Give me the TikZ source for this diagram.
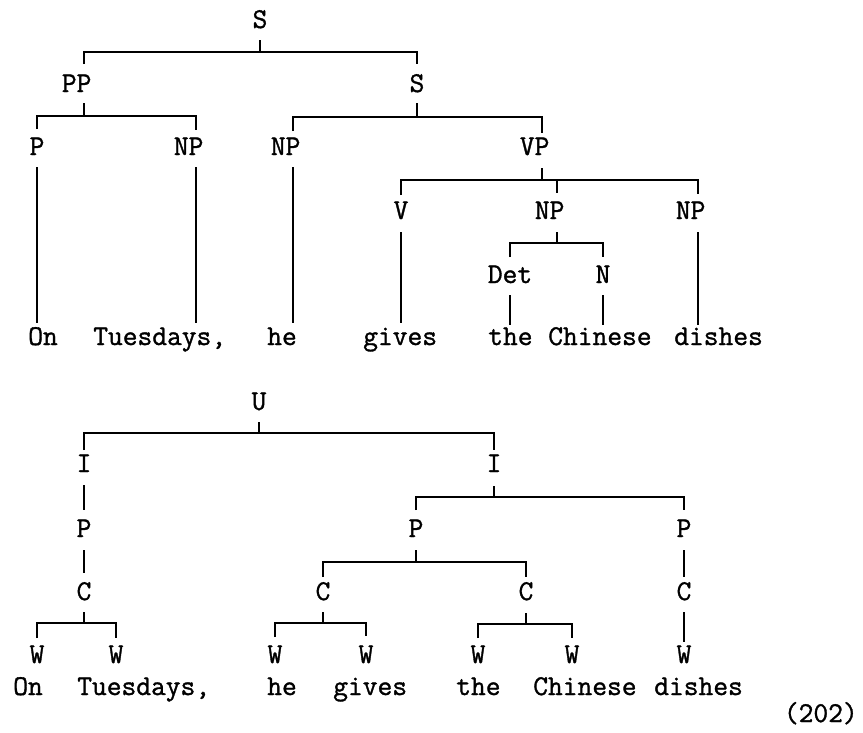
\documentclass[tikz,border=0pt]{standalone}
\usepackage{fontspec}
\newfontfamily\treemono[FakeBold=1.2]{Latin Modern Mono}
\newcommand\treefont{\fontsize{21.5}{24}\selectfont\treemono}
\tikzset{
  lab/.style={inner sep=0pt, anchor=base, font=\treefont},
  word/.style={inner sep=0pt, anchor=base west, font=\treefont},
  link/.style={line width=1.3pt},
}
\begin{document}
\begin{tikzpicture}[x=0.75pt, y=-0.75pt]
\useasboundingbox (0,0) rectangle (863,732);

% ---------- constituent tree ----------
% two-letter labels carry a phantom column so that the node centre sits on the last letter
\node[lab] (s0)  at (260,28)  {S};
\node[lab] (pp)  at (84,92)   {PP\phantom{P}};
\node[lab] (s1)  at (417,92)  {S};
\node[lab] (p)   at (37,155)  {P};
\node[lab] (np1) at (196,155) {NP\phantom{P}};
\node[lab] (np2) at (293,155) {NP\phantom{P}};
\node[lab] (vp)  at (542,155) {VP\phantom{P}};
\node[lab] (v)   at (401,219) {V};
\node[lab] (np3) at (557,219) {NP\phantom{P}};
\node[lab] (np4) at (698,219) {NP\phantom{P}};
\node[lab] (det) at (510,283) {Det};
\node[lab] (n)   at (603,283) {N};

\node[word] (on1)  at (28,345)  {On};
\node[word] (tu1)  at (93,345)  {Tuesdays,};
\node[word] (he1)  at (267,345) {he};
\node[word] (gi1)  at (363,345) {gives};
\node[word] (th1)  at (488,345) {the};
\node[word] (ch1)  at (548,345) {Chinese};
\node[word] (di1)  at (674,345) {dishes};

\draw[link] (s0 |- 0,40) -- (s0 |- 0,52);
\draw[link] (pp |- 0,64) -- (pp |- 0,52) -- (s1 |- 0,52) -- (s1 |- 0,64);
\draw[link] (pp |- 0,103) -- (pp |- 0,116);
\draw[link] (p |- 0,129) -- (p |- 0,116) -- (np1 |- 0,116) -- (np1 |- 0,130);
\draw[link] (s1 |- 0,103) -- (s1 |- 0,117);
\draw[link] (np2 |- 0,131) -- (np2 |- 0,117) -- (vp |- 0,117) -- (vp |- 0,133);
\draw[link] (p |- 0,167) -- (p |- 0,323);
\draw[link] (np1 |- 0,167) -- (np1 |- 0,323);
\draw[link] (np2 |- 0,167) -- (np2 |- 0,323);
\draw[link] (vp |- 0,168) -- (vp |- 0,180);
\draw[link] (v |- 0,195) -- (v |- 0,180) -- (np4 |- 0,180) -- (np4 |- 0,194);
\draw[link] (np3 |- 0,180) -- (np3 |- 0,193);
\draw[link] (v |- 0,232) -- (v |- 0,323);
\draw[link] (np3 |- 0,232) -- (np3 |- 0,243);
\draw[link] (det |- 0,257) -- (det |- 0,243) -- (n |- 0,243) -- (n |- 0,257);
\draw[link] (det |- 0,295) -- (det |- 0,325);
\draw[link] (n |- 0,295) -- (n |- 0,325);
\draw[link] (np4 |- 0,232) -- (np4 |- 0,325);

% ---------- prosodic tree ----------
\node[lab] (u)   at (259,410) {U};
\node[lab] (i1)  at (84,472)  {I};
\node[lab] (i2)  at (494,472) {I};
\node[lab] (pa)  at (84,537)  {P};
\node[lab] (pb)  at (416,537) {P};
\node[lab] (pc)  at (684,537) {P};
\node[lab] (ca)  at (84,600)  {C};
\node[lab] (cb)  at (323,600) {C};
\node[lab] (cc)  at (526,600) {C};
\node[lab] (cd)  at (684,600) {C};
\node[lab] (w1)  at (37,663)  {W};
\node[lab] (w2)  at (116,663) {W};
\node[lab] (w3)  at (275,663) {W};
\node[lab] (w4)  at (366,663) {W};
\node[lab] (w5)  at (478,663) {W};
\node[lab] (w6)  at (572,663) {W};
\node[lab] (w7)  at (684,663) {W};

\node[word] (on2)  at (13,695)  {On};
\node[word] (tu2)  at (77,695)  {Tuesdays,};
\node[word] (he2)  at (267,695) {he};
\node[word] (gi2)  at (333,695) {gives};
\node[word] (th2)  at (456,695) {the};
\node[word] (ch2)  at (533,695) {Chinese};
\node[word] (di2)  at (654,695) {dishes};
\node[lab, anchor=base east] (num) at (858,722) {(202)};

\draw[link] (u |- 0,422) -- (u |- 0,433);
\draw[link] (i1 |- 0,450) -- (i1 |- 0,433) -- (i2 |- 0,433) -- (i2 |- 0,450);
\draw[link] (i1 |- 0,485) -- (i1 |- 0,510);
\draw[link] (pa |- 0,550) -- (pa |- 0,573);
\draw[link] (ca |- 0,612) -- (ca |- 0,623);
\draw[link] (w1 |- 0,638) -- (w1 |- 0,623) -- (w2 |- 0,623) -- (w2 |- 0,638);
\draw[link] (i2 |- 0,486) -- (i2 |- 0,497);
\draw[link] (pb |- 0,510) -- (pb |- 0,497) -- (pc |- 0,497) -- (pc |- 0,510);
\draw[link] (pb |- 0,550) -- (pb |- 0,562);
\draw[link] (cb |- 0,577) -- (cb |- 0,562) -- (cc |- 0,562) -- (cc |- 0,577);
\draw[link] (pc |- 0,550) -- (pc |- 0,577);
\draw[link] (cb |- 0,612) -- (cb |- 0,623);
\draw[link] (w3 |- 0,637) -- (w3 |- 0,623) -- (w4 |- 0,623) -- (w4 |- 0,636);
\draw[link] (cc |- 0,613) -- (cc |- 0,624);
\draw[link] (w5 |- 0,638) -- (w5 |- 0,624) -- (w6 |- 0,624) -- (w6 |- 0,638);
\draw[link] (cd |- 0,612) -- (cd |- 0,642);
\end{tikzpicture}
\end{document}
